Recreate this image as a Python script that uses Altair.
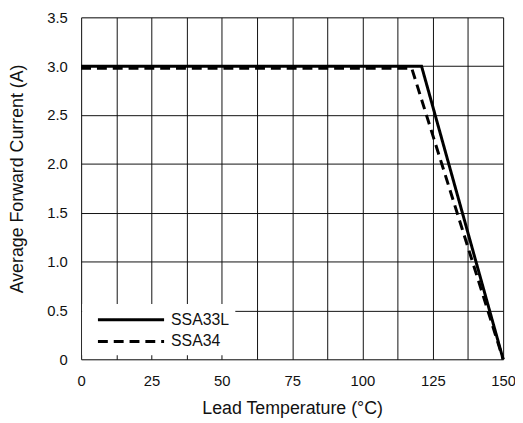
import altair as alt
import pandas as pd

# ---- data ----
series_names = ["SSA33L", "SSA34"]
ssa33l_temp = [0, 121, 150]
ssa33l_current = [3.0, 3.0, 0.0]
ssa34_temp = [0, 117.5, 150]
ssa34_current = [2.98, 2.98, 0.0]

x_grid_values = [0, 12.5, 25, 37.5, 50, 62.5, 75, 87.5, 100, 112.5, 125, 137.5, 150]
y_tick_values = [0, 0.5, 1.0, 1.5, 2.0, 2.5, 3.0, 3.5]

rows = []
for name, temps, currents in [
    (series_names[0], ssa33l_temp, ssa33l_current),
    (series_names[1], ssa34_temp, ssa34_current),
]:
    for i, (t, c) in enumerate(zip(temps, currents)):
        rows.append({"series": name, "temp": t, "current": c, "order": i})
df = pd.DataFrame(rows)

FONT = "Liberation Sans"
PLOT_W = 427
PLOT_H = 346

chart = (
    alt.Chart(df)
    .mark_line(color="black", strokeWidth=3, clip=False)
    .encode(
        x=alt.X(
            "temp:Q",
            scale=alt.Scale(domain=[0, 150], nice=False, zero=False),
            axis=alt.Axis(
                values=x_grid_values,
                labelExpr="datum.value % 25 == 0 ? datum.label : ''",
                title="Lead Temperature (°C)",
                titleFontSize=18,
                titleFontWeight="normal",
                titleFont=FONT,
                titleColor="#111",
                titleBaseline="alphabetic",
                titleY=55,
                labelFont=FONT,
                labelFontSize=15,
                labelColor="#111",
                labelPadding=15,
                ticks=False,
                tickSize=0,
                domain=False,
                grid=True,
                gridColor="#111",
                gridWidth=1,
                gridOpacity=1,
                labelFlush=False,
                labelOverlap=False,
            ),
        ),
        y=alt.Y(
            "current:Q",
            scale=alt.Scale(domain=[0, 3.5], nice=False, zero=True),
            axis=alt.Axis(
                values=y_tick_values,
                labelExpr="datum.value == 0 ? '0' : format(datum.value, '.1f')",
                title="Average Forward Current (A)",
                titleFontSize=18,
                titleFontWeight="normal",
                titleFont=FONT,
                titleColor="#111",
                titleBaseline="alphabetic",
                titleX=-59.5,
                titleY=PLOT_H / 2 - 10,
                labelFont=FONT,
                labelFontSize=15,
                labelColor="#111",
                labelPadding=14,
                ticks=False,
                tickSize=0,
                domain=False,
                grid=True,
                gridColor="#111",
                gridWidth=1,
                gridOpacity=1,
                labelFlush=False,
                labelOverlap=False,
            ),
        ),
        strokeDash=alt.StrokeDash(
            "series:N",
            scale=alt.Scale(domain=series_names, range=[[1, 0], [10, 6]]),
            legend=alt.Legend(
                title=None,
                orient="none",
                legendX=1,
                legendY=PLOT_H - 56,
                fillColor="white",
                padding=6,
                symbolType="M0,0H8",
                symbolSize=280,
                symbolStrokeWidth=3,
                symbolStrokeColor="black",
                labelFont=FONT,
                labelFontSize=16,
                labelColor="#111",
                labelOffset=64,
                rowPadding=4,
            ),
        ),
        order="order:Q",
    )
    .properties(
        width=PLOT_W,
        height=PLOT_H,
        autosize=alt.AutoSizeParams(type="none"),
        padding={"left": 74, "top": 7, "right": 12, "bottom": 61},
    )
    .configure_view(stroke="black", strokeWidth=2)
    .configure(background="white")
)

chart.save("out.html", embed_options={"renderer": "svg", "actions": False})
